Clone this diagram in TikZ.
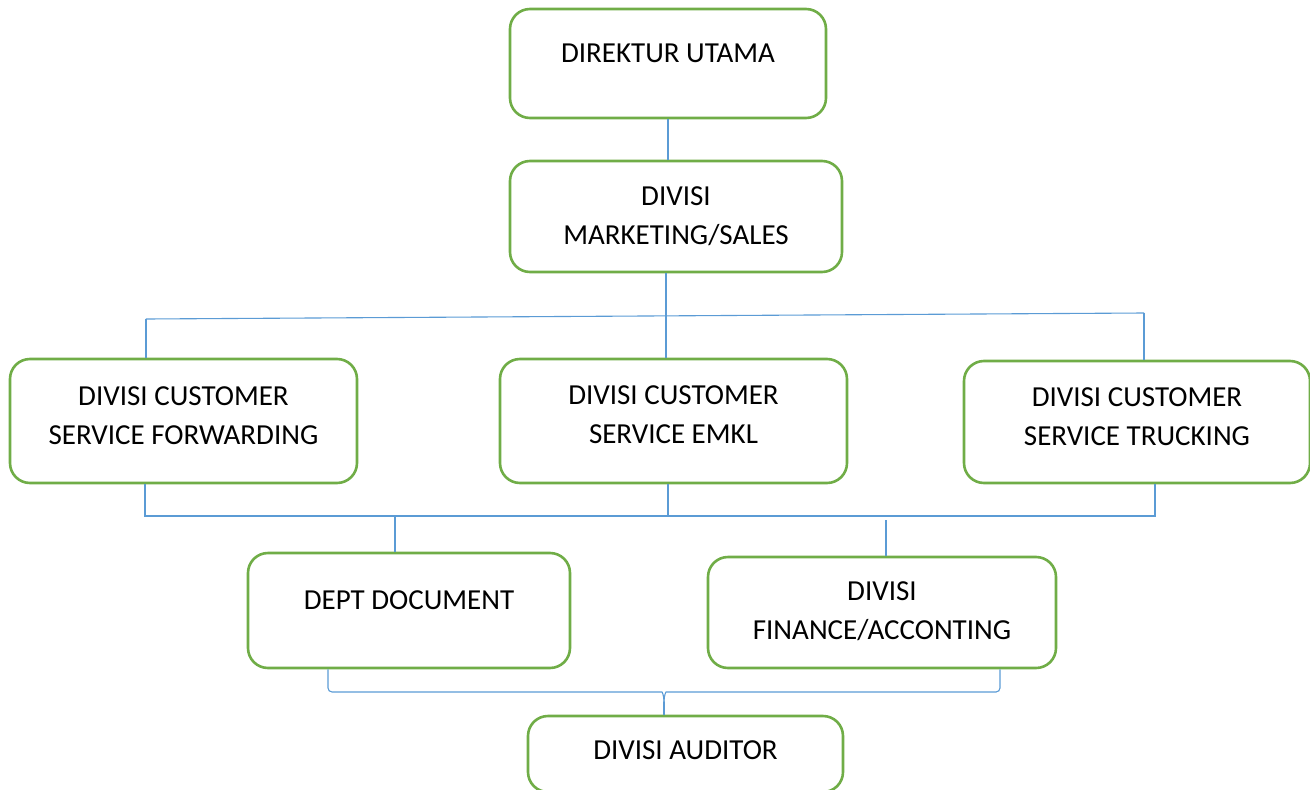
\documentclass[tikz,border=0pt]{standalone}
\usepackage{fontspec}
\setmainfont{Carlito}
\definecolor{boxgreen}{HTML}{70AD47}
\definecolor{linkblue}{HTML}{5B9BD5}
\begin{document}
\begin{tikzpicture}[x=1pt,y=-1pt,
  box/.style={draw=boxgreen, line width=2.6pt, rounded corners=20pt, fill=white, inner sep=0pt},
  lbl/.style={font=\fontsize{29}{39}\selectfont, align=center, text=black, inner sep=0pt},
  link/.style={draw=linkblue, line width=1.1pt}]
\useasboundingbox (0,0) rectangle (1310,790);
\clip (0,0) rectangle (1310,790);

% boxes
\node[box, minimum width=316pt, minimum height=109pt] (dir)  at (668,63.5) {};
\node[box, minimum width=332pt, minimum height=111pt] (mkt)  at (676,216.5) {};
\node[box, minimum width=347pt, minimum height=124pt] (fwd)  at (183.5,421) {};
\node[box, minimum width=347pt, minimum height=124pt] (emkl) at (673.5,421) {};
\node[box, minimum width=346pt, minimum height=122pt] (trk)  at (1137,422) {};
\node[box, minimum width=322pt, minimum height=115pt] (doc)  at (409,610.5) {};
\node[box, minimum width=348pt, minimum height=111pt] (fin)  at (882,612.5) {};
\node[box, minimum width=315pt, minimum height=76pt]  (aud)  at (685.5,754) {};

% labels
\node[lbl] (tdir)  at (668,53)    {DIREKTUR UTAMA};
\node[lbl] (tmkt)  at (676,216.5) {DIVISI\\MARKETING/SALES};
\node[lbl] (tfwd)  at (183.5,415.5) {DIVISI CUSTOMER\\SERVICE FORWARDING};
\node[lbl] (temkl) at (673.5,415) {DIVISI CUSTOMER\\SERVICE EMKL};
\node[lbl] (ttrk)  at (1137,416.5) {DIVISI CUSTOMER\\SERVICE TRUCKING};
\node[lbl] (tdoc)  at (409,600)   {DEPT DOCUMENT};
\node[lbl] (tfin)  at (882,611.5) {DIVISI\\FINANCE/ACCONTING};
\node[lbl] (taud)  at (685.5,750) {DIVISI AUDITOR};

% junction points
\coordinate (tapA) at (666,318);
\coordinate (busL) at (146,319);
\coordinate (busR) at (1144,313);
\coordinate (bus2L) at (145,516);
\coordinate (bus2R) at (1155,516);
\coordinate (tapE) at (668,516);
\coordinate (tapD) at (395,516);
\coordinate (tapF) at (886,520);
\coordinate (braceL) at (328,692);
\coordinate (braceR) at (1000,692);
\coordinate (braceM) at (664,702);

% connectors
\draw[link] (dir.south -| tdir) -- (tdir |- mkt.north);
\draw[link] (tapA |- mkt.south) -- (tapA |- emkl.north);
\draw[link] (busL) -- (busR);
\draw[link] (busL) -- (busL |- fwd.north);
\draw[link] (busR) -- (busR |- trk.north);

\draw[link] (bus2L |- fwd.south) -- (bus2L) -- (bus2R) -- (bus2R |- trk.south);
\draw[link] (tapE |- emkl.south) -- (tapE);
\draw[link] (tapD) -- (tapD |- doc.north);
\draw[link] (tapF) -- (tapF |- fin.north);

\draw[link, rounded corners=4pt] (braceL |- doc.south) -- (braceL) -- (658,692)
  .. controls (662,692) and (664,695) .. (braceM);
\draw[link, rounded corners=4pt] (braceR |- fin.south) -- (braceR) -- (670,692)
  .. controls (666,692) and (664,695) .. (braceM);
\draw[link] (braceM) -- (braceM |- aud.north);
\end{tikzpicture}
\end{document}
